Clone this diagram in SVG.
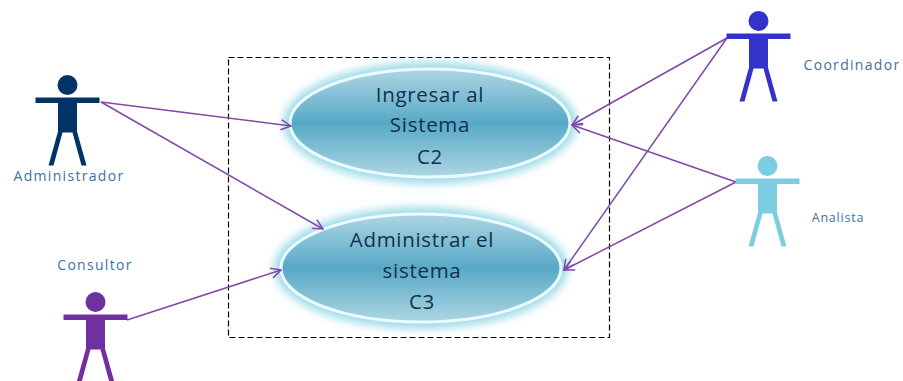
<svg xmlns="http://www.w3.org/2000/svg" width="903" height="381" viewBox="0 0 903 381">
<style>
.lbl{font-family:"Open Sans","Noto Sans","Liberation Sans",sans-serif;font-size:14px;fill:#41719f;text-anchor:middle;letter-spacing:1.300px}
.uc{font-family:"Open Sans","Noto Sans","Liberation Sans",sans-serif;font-size:20.500px;fill:#12304f;text-anchor:middle;letter-spacing:0.700px}
.conn{fill:none;stroke:#8049a8;stroke-width:1.500;marker-end:url(#arr)}
.glow{fill:#9fdbe8;filter:url(#blur)}
.face{fill:url(#fill);stroke:#eafcff;stroke-width:3}
</style>
<defs>
<linearGradient id="fill" x1="0" y1="0" x2="0" y2="1">
<stop offset="0" stop-color="#aed6e3"/>
<stop offset="0.5" stop-color="#57a9c6"/>
<stop offset="1" stop-color="#aed6e3"/>
</linearGradient>
<filter id="blur" x="-20%" y="-30%" width="140%" height="160%"><feGaussianBlur stdDeviation="4.500"/></filter>
<marker id="arr" viewBox="0 0 12 12" refX="11" refY="6" markerWidth="12" markerHeight="12" markerUnits="userSpaceOnUse" orient="auto">
<path d="M1 1L11 6L1 11" fill="none" stroke="#8049a8" stroke-width="1.500"/>
</marker>
<g id="figure">
<circle cx="0" cy="-12.500" r="10"/>
<rect x="-32" y="0" width="64" height="5.500"/>
<path d="M-9.500 5H9.500V34L19 68H14L5 35H-5L-14 68H-19L-9.500 34Z"/>
</g>
</defs>
<g id="boundary"><rect x="228.500" y="57.500" width="381" height="280" fill="none" stroke="#000" stroke-width="1.200" stroke-dasharray="6 3"/></g>
<g id="uc-c2">
<ellipse class="glow" cx="430" cy="123" rx="147" ry="61"/>
<ellipse class="face" cx="430" cy="123" rx="140" ry="54"/>
<text class="uc" x="430" y="102">Ingresar al</text>
<text class="uc" x="430" y="132">Sistema</text>
<text class="uc" x="430" y="164">C2</text>
</g>
<g id="uc-c3">
<ellipse class="glow" cx="421" cy="268" rx="147" ry="61"/>
<ellipse class="face" cx="421" cy="268" rx="140" ry="54"/>
<text class="uc" x="422" y="247">Administrar el</text>
<text class="uc" x="422" y="278">sistema</text>
<text class="uc" x="422" y="309">C3</text>
</g>
<g id="connectors">
<path class="conn" d="M101 102L291 126"/>
<path class="conn" d="M101 102L323 229"/>
<path class="conn" d="M127 320L281 270"/>
<path class="conn" d="M727 38L572 125"/>
<path class="conn" d="M727 38L564 270"/>
<path class="conn" d="M736 182L572 125"/>
<path class="conn" d="M736 182L564 270"/>
</g>
<g id="administrador"><use href="#figure" x="67.500" y="97.500" fill="#003366"/><text class="lbl" x="69" y="181">Administrador</text></g>
<g id="consultor"><use href="#figure" x="95.500" y="314.500" fill="#7030a0"/><text class="lbl" x="95" y="270">Consultor</text></g>
<g id="coordinador"><use href="#figure" x="758.500" y="33.500" fill="#3333cc"/><text class="lbl" x="852" y="70">Coordinador</text></g>
<g id="analista"><use href="#figure" x="767.500" y="178.500" fill="#7dcde0"/><text class="lbl" x="838" y="222" style="font-size:12.500px;letter-spacing:0.800px">Analista</text></g>
</svg>
